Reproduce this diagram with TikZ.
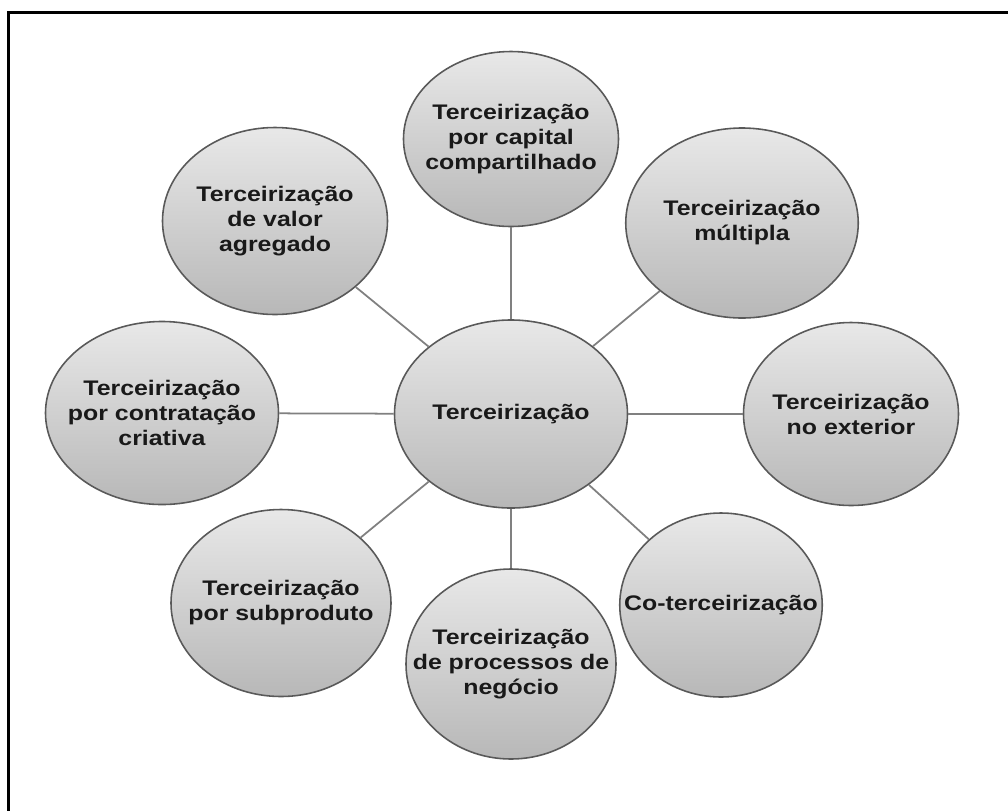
\documentclass[tikz,border=0pt]{standalone}
\usepackage{fontspec}
\newfontfamily\rotulo{Liberation Sans}[FakeStretch=1.18]
\usetikzlibrary{shapes.geometric}

\begin{document}
\begin{tikzpicture}[x=0.2mm,y=-0.2mm,
  bolha/.style={ellipse,draw=black!65,line width=0.9pt,top color=black!9,bottom color=black!28,
    inner xsep=-30pt,inner ysep=-10pt,minimum width=44mm,minimum height=37mm,align=center,
    font=\rotulo\bfseries\fontsize{12}{14.2}\selectfont,text=black!90},
  liga/.style={draw=black!50,line width=1pt}]
  \useasboundingbox (0,0) rectangle (1008,810);
  % moldura (so topo e lado esquerdo)
  \draw[line width=1.4pt,line cap=rect] (8.5,810) -- (8.5,12.5) -- (1008,12.5);
  % conceito central
  \node[bolha,minimum width=46.6mm,minimum height=37.6mm] (centro) at (511,414) {Terceirização};
  % tipos em volta
  \node[bolha,minimum width=43mm,minimum height=35mm] (capital) at (511,139) {Terceirização\\por capital\\compartilhado};
  \node[bolha,minimum width=46.5mm,minimum height=38mm] (multipla) at (742,223) {Terceirização\\múltipla};
  \node[bolha,minimum width=43mm,minimum height=36.6mm] (exterior) at (851,414) {Terceirização\\no exterior};
  \node[bolha,minimum width=40.5mm,minimum height=36.8mm] (coterc) at (721,605) {Co-terceirização};
  \node[bolha,minimum width=42mm,minimum height=38mm] (processos) at (511,664) {Terceirização\\de processos de\\negócio};
  \node[bolha,minimum width=44mm,minimum height=37.4mm] (subproduto) at (281,603) {Terceirização\\por subproduto};
  \node[bolha,minimum width=46.6mm,minimum height=36.6mm] (criativa) at (162,413) {Terceirização\\por contratação\\criativa};
  \node[bolha,minimum width=45mm,minimum height=37.4mm] (valor) at (275,221) {Terceirização\\de valor\\agregado};
  % ligacoes
  \foreach \n in {capital,multipla,exterior,coterc,processos,subproduto,criativa,valor}
    \draw[liga] (centro) -- (\n);
\end{tikzpicture}
\end{document}
